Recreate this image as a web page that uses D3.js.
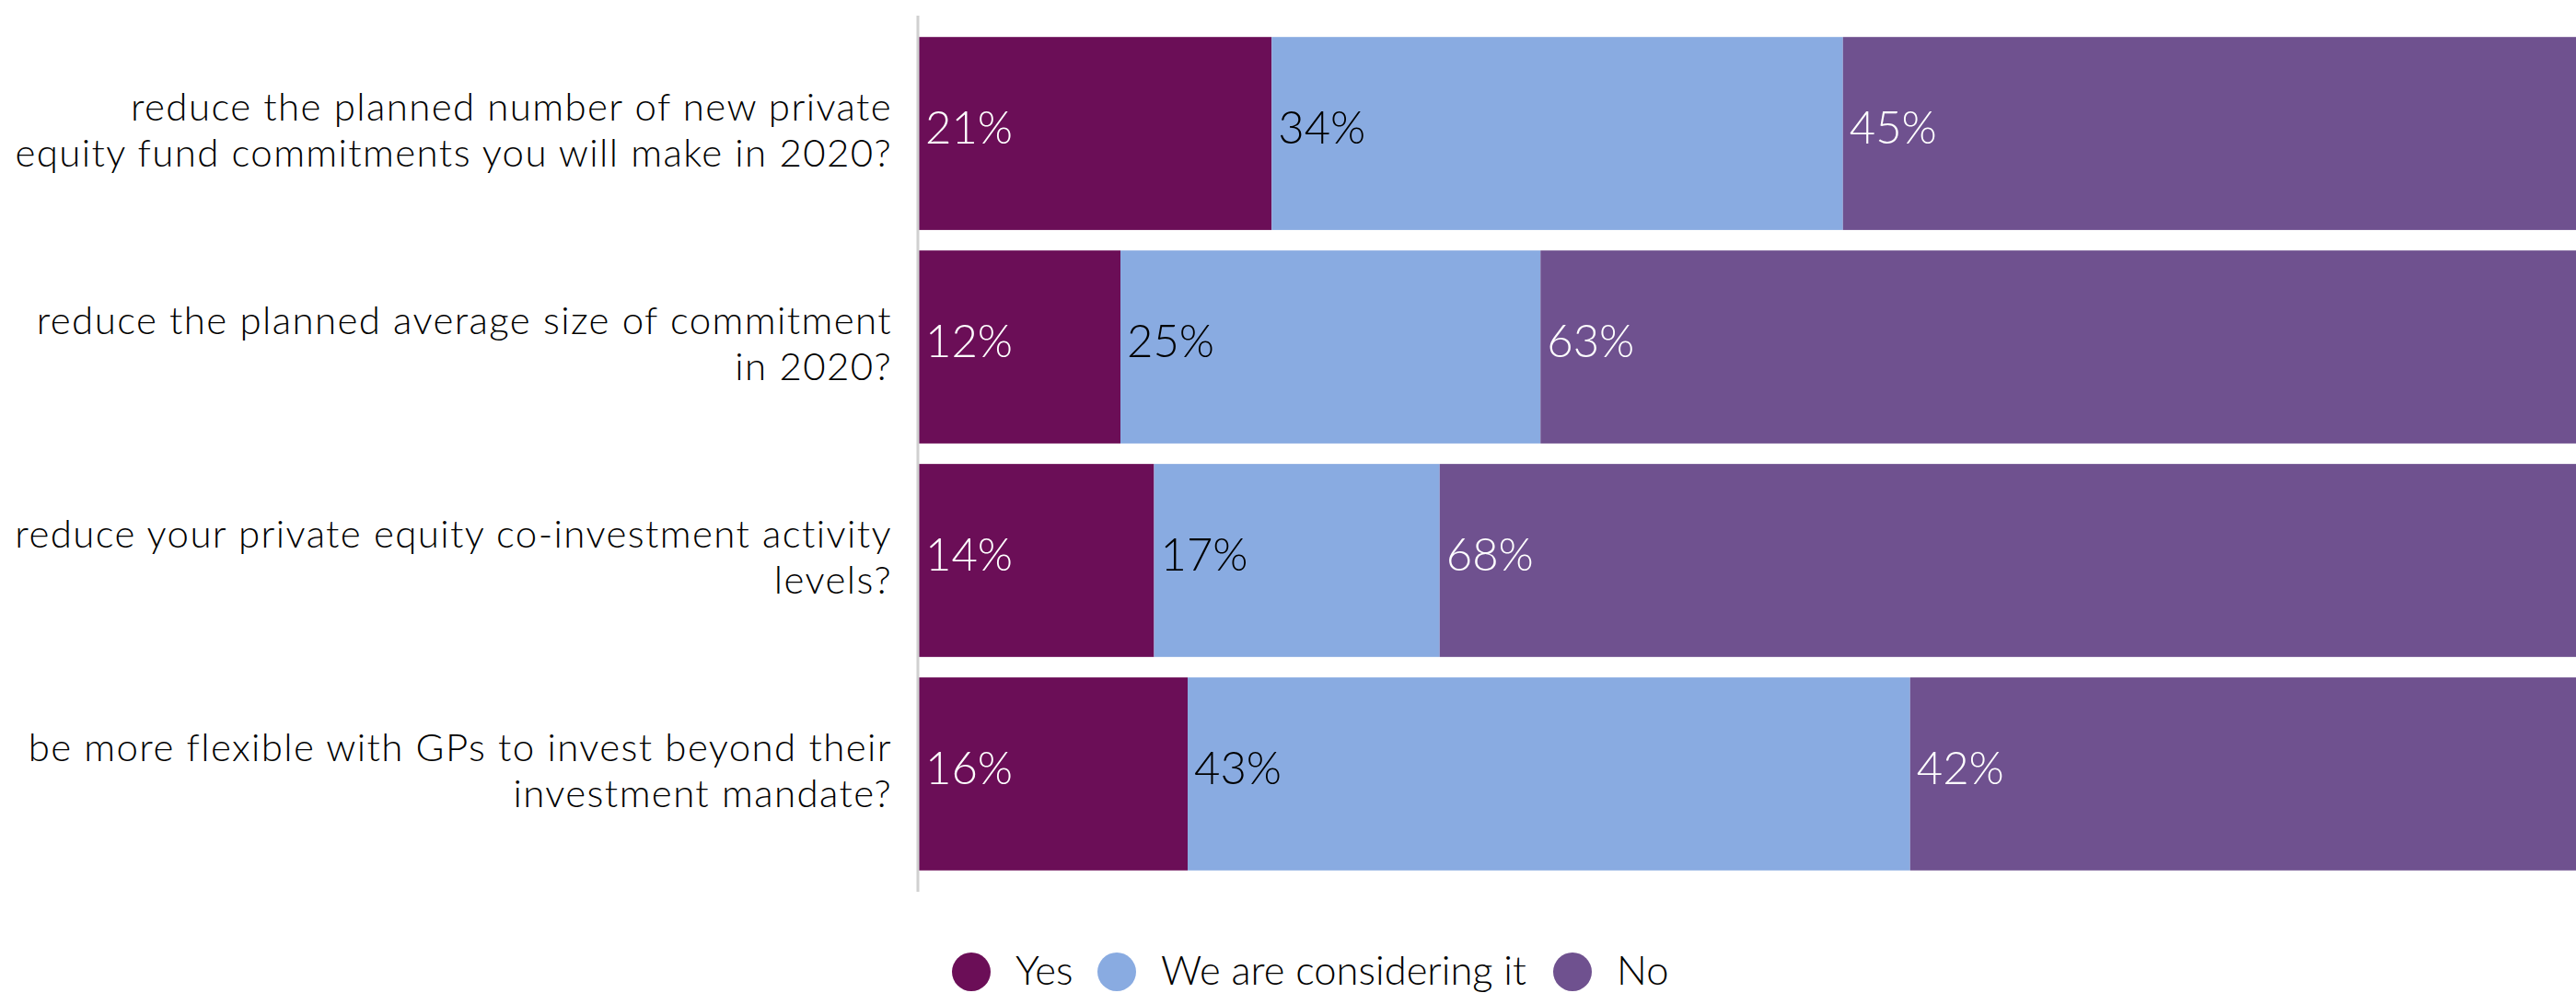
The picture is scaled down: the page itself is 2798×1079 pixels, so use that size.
<!DOCTYPE html>
<html>
<head>
<meta charset="utf-8">
<script src="https://cdn.jsdelivr.net/npm/d3@7"></script>
<style>
  html, body { margin: 0; padding: 0; background: #fff; overflow: hidden; }
  svg { display: block; font-family: Lato, "Open Sans", sans-serif; }
</style>
</head>
<body>
<div id="chart"></div>
<script>
const categories = [
  "reduce the planned number of new private\nequity fund commitments you will make in 2020?",
  "reduce the planned average size of commitment\nin 2020?",
  "reduce your private equity co-investment activity\nlevels?",
  "be more flexible with GPs to invest beyond their\ninvestment mandate?"
];
const seriesNames = ["Yes", "We are considering it", "No"];
const yesValues = [21, 12, 14, 16];
const consideringValues = [34, 25, 17, 43];
const noValues = [45, 63, 68, 42];

const colors = ["#6b0e57", "#89abe1", "#6f518f"];
const labelColors = ["#fff", "#000", "#fff"];

const width = 2798, height = 1079;
const axisX = 997;

const rows = categories.map((c, i) => ({
  cat: c, Yes: yesValues[i], "We are considering it": consideringValues[i], No: noValues[i]
}));
const stacked = d3.stack().keys(seriesNames)(rows);

// 100% sits a bit past the right edge of the picture, so bars are clipped
const x = d3.scaleLinear().domain([0, 100]).range([998, 2823]);
const y = d3.scaleBand().domain(categories).range([17, 969]).paddingInner(0.096).paddingOuter(0.1);

const svg = d3.select("#chart").append("svg")
  .attr("width", width)
  .attr("height", height);

// Bars
const layer = svg.append("g")
  .selectAll("g")
  .data(stacked)
  .join("g")
  .attr("fill", (d, i) => colors[i]);

layer.selectAll("rect")
  .data(d => d)
  .join("rect")
  .attr("x", d => x(d[0]))
  .attr("y", d => y(d.data.cat))
  .attr("width", d => x(d[1]) - x(d[0]))
  .attr("height", y.bandwidth());

// Value labels
layer.each(function (s, i) {
  d3.select(this).selectAll("text")
    .data(s)
    .join("text")
    .attr("x", d => x(d[0]) + 7)
    .attr("y", d => y(d.data.cat) + y.bandwidth() / 2)
    .attr("dy", "0.23em")
    .attr("fill", labelColors[i])
    .style("font-size", "49px")
    .style("font-weight", 300)
    .text(d => (d[1] - d[0]) + "%");
});

// Axis line
svg.append("line")
  .attr("x1", axisX).attr("x2", axisX)
  .attr("y1", 17).attr("y2", 969)
  .attr("stroke", "#d0d0d0")
  .attr("stroke-width", 3);

// Category labels
const lineH = 50;
svg.append("g")
  .selectAll("text")
  .data(categories)
  .join("text")
  .attr("text-anchor", "end")
  .style("font-size", "42px")
  .style("letter-spacing", "1.4px")
  .style("font-weight", 300)
  .attr("fill", "#000")
  .each(function (d) {
    const lines = d.split("\n");
    const cy = y(d) + y.bandwidth() / 2;
    const top = cy - (lines.length - 1) * lineH / 2;
    d3.select(this).selectAll("tspan")
      .data(lines)
      .join("tspan")
      .attr("x", 969)
      .attr("y", (l, j) => top + j * lineH)
      .attr("dy", "0.27em")
      .text(l => l);
  });

// Legend
const legendItems = [
  { name: seriesNames[0], cx: 1055 },
  { name: seriesNames[1], cx: 1213 },
  { name: seriesNames[2], cx: 1708 }
];
const legend = svg.append("g")
  .selectAll("g")
  .data(legendItems)
  .join("g")
  .attr("transform", d => `translate(${d.cx},1056)`);

legend.append("circle")
  .attr("r", 21)
  .attr("fill", (d, i) => colors[i]);

legend.append("text")
  .attr("x", 48)
  .attr("dy", "0.33em")
  .style("font-size", "43.5px")
  .style("font-weight", 300)
  .attr("fill", "#000")
  .text(d => d.name);
</script>
</body>
</html>
